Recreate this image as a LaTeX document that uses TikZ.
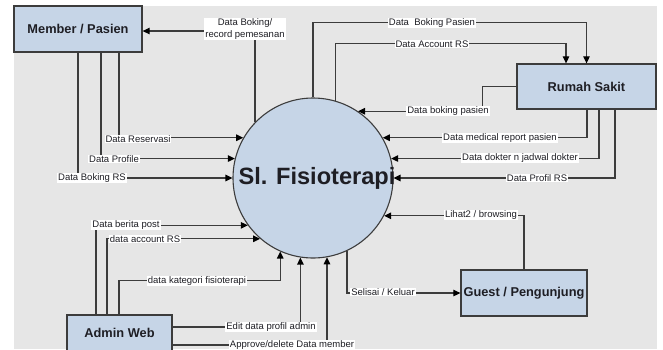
\documentclass[tikz,border=0pt]{standalone}
\usepackage{fontspec}
\setmainfont{Liberation Sans}
\usetikzlibrary{arrows.meta}

\definecolor{bgGray}{HTML}{E6E6E6}
\definecolor{boxBlue}{HTML}{C6D5E7}
\definecolor{lineGray}{HTML}{3C3C3C}
\definecolor{inkDark}{HTML}{1E1E24}

\tikzset{
  entity/.style={draw=lineGray, line width=1.3pt, fill=boxBlue, inner sep=0pt,
    font=\fontsize{12.8}{15}\selectfont\bfseries, text=inkDark},
  process/.style={circle, draw=lineGray, line width=1.1pt, fill=boxBlue,
    minimum size=160pt, inner sep=0pt},
  flow/.style={draw=lineGray, line width=1.2pt,
    -{Triangle[length=7pt,width=6.5pt,color=black]}},
  lbl/.style={fill=white, inner sep=1pt, font=\fontsize{9.5}{11.5}\selectfont,
    text=inkDark},
}

\begin{document}
\begin{tikzpicture}[x=1pt, y=-1pt]
  % canvas
  \useasboundingbox (0,0) rectangle (663,349);
  \fill[white] (0,0) rectangle (663,349);
  \fill[bgGray] (14,6) rectangle (657,349);

  % central process
  \node[process] (c) at (313,178) {};
  \node[anchor=base, font=\fontsize{23.6}{28}\selectfont\bfseries, text=inkDark]
    (ctitle) at (317,184) {Sl. Fisioterapi};

  % external entities
  \node[entity, minimum width=128pt, minimum height=46pt] (mem) at (78,29) {Member / Pasien};
  \node[entity, minimum width=139pt, minimum height=45pt] (rs) at (586.5,86.5) {Rumah Sakit};
  \node[entity, minimum width=126pt, minimum height=46pt] (gu) at (524,293) {Guest / Pengunjung};
  \node[entity, minimum width=105pt, minimum height=36pt] (adm) at (119.5,333) {Admin Web};

  % flows between the process and Member / Pasien
  \draw[flow] (c.136.5) |- ([yshift=-2pt]mem.east);
  \draw[flow] (mem.south) |- (c.180);
  \draw[flow] ([xshift=23pt]mem.south) |- (c.166.3);
  \draw[flow] ([xshift=41pt]mem.south) |- (c.150.8);

  % flows between the process and Rumah Sakit
  \draw[flow] (c.90) -- ++(0,-75) -| (rs.north);
  \draw[flow] (c.74.8) -- ++(0,-57) -| ([xshift=-20.5pt]rs.north);
  \draw[flow] (rs.west) -- ++(-34,0) |- (c.56.9);
  \draw[flow] ([xshift=0.5pt]rs.south) |- (c.30);
  \draw[flow] ([xshift=12.5pt]rs.south) |- (c.14.5);
  \draw[flow] ([xshift=28.5pt]rs.south) |- (c.0);

  % flows between the process and Guest / Pengunjung
  \draw[flow] (gu.north) |- (c.332.5);
  \draw[flow] (c.295.9) |- (gu.west);

  % flows between Admin Web and the process
  \draw[flow] ([xshift=-23.5pt]adm.north) |- (c.216);
  \draw[flow] ([xshift=-12.5pt]adm.north) |- (c.229.7);
  \draw[flow] ([xshift=-0.5pt]adm.north) -- ++(0,-34) -| (c.246.4);
  \draw[flow] ([yshift=6pt]adm.east) -| (c.261.4);
  \draw[flow] ([yshift=-12pt]adm.east) -| (c.280.1);

  % flow labels
  \node[lbl, align=center] (l1) at (245,29) {Data Boking/\\record pemesanan};
  \node[lbl] (l2) at (138,139) {Data Reservasi};
  \node[lbl] (l3) at (114,159) {Data Profile};
  \node[lbl] (l4) at (92,178) {Data Boking RS};
  \node[lbl] (l5) at (432,23) {Data\ \ Boking Pasien};
  \node[lbl] (l6) at (432,44) {Data Account RS};
  \node[lbl] (l7) at (448,111) {Data boking pasien};
  \node[lbl] (l8) at (500,138) {Data medical report pasien};
  \node[lbl] (l9) at (520,158) {Data dokter n jadwal dokter};
  \node[lbl] (l10) at (537,178) {Data Profil RS};
  \node[lbl] (l11) at (481,215) {Lihat2 / browsing};
  \node[lbl] (l12) at (383,292) {Selisai / Keluar};
  \node[lbl] (l13) at (126,225) {Data berita post};
  \node[lbl] (l14) at (145,239) {data account RS};
  \node[lbl] (l15) at (197,281) {data kategori fisioterapi};
  \node[lbl] (l16) at (271,327) {Edit data profil admin};
  \node[lbl] (l17) at (292,345) {Approve/delete Data member};
\end{tikzpicture}
\end{document}
